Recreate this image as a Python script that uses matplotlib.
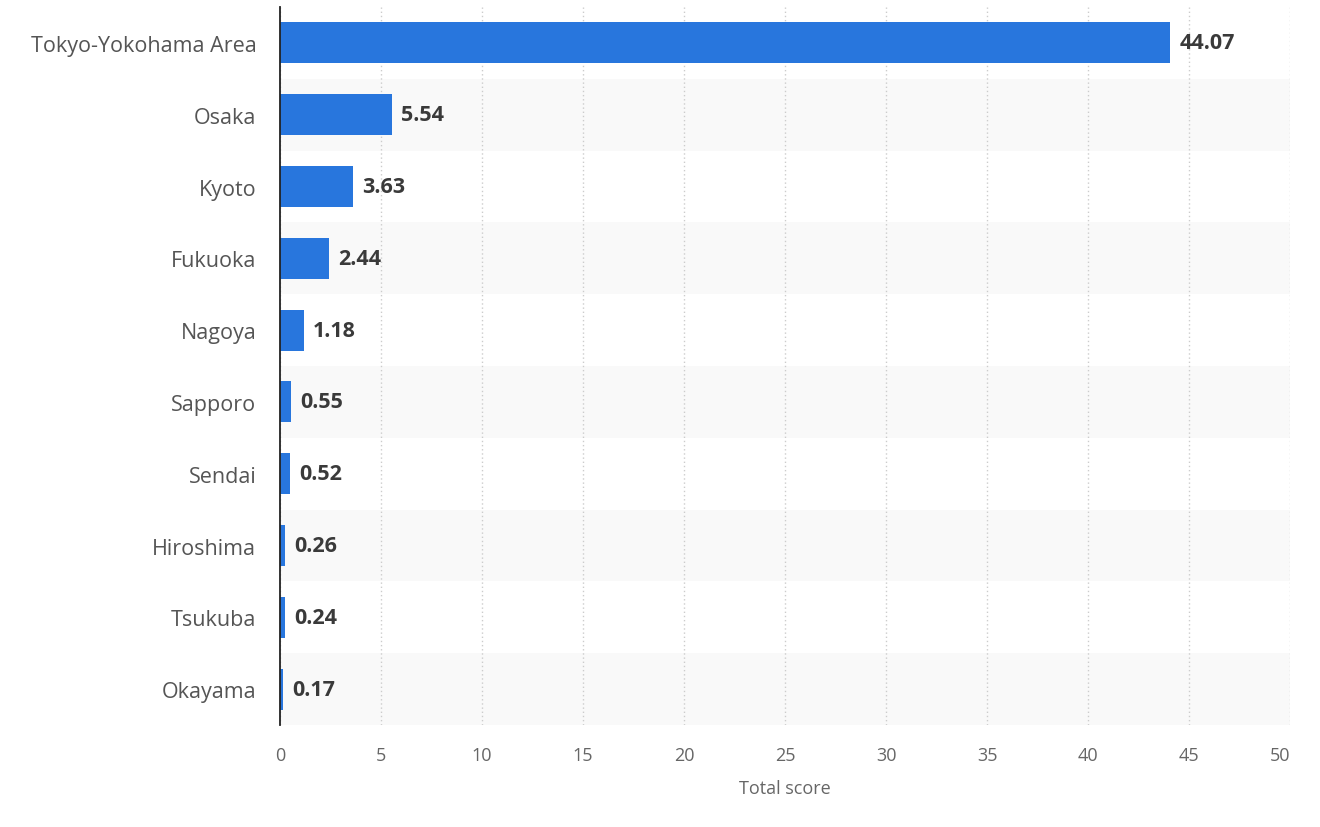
import numpy as np
import matplotlib.pyplot as plt

cities = ["Tokyo-Yokohama Area", "Osaka", "Kyoto", "Fukuoka", "Nagoya",
          "Sapporo", "Sendai", "Hiroshima", "Tsukuba", "Okayama"]
scores = [44.07, 5.54, 3.63, 2.44, 1.18, 0.55, 0.52, 0.26, 0.24, 0.17]
xticks = [0, 5, 10, 15, 20, 25, 30, 35, 40, 45, 50]

plt.rcParams['font.family'] = ['Open Sans', 'DejaVu Sans']

fig = plt.figure(figsize=(13.2, 8.28), dpi=100)
ax = fig.add_axes([0.2121, 0.1232, 0.7652, 0.8671])

y = np.arange(len(cities))

# alternating row bands
for i in y:
    if i % 2 == 1:
        ax.axhspan(i - 0.5, i + 0.5, color='#f9f9f9', zorder=0, lw=0)

ax.barh(y, scores, height=0.57, color='#2876dd', zorder=3)

for yi, v in zip(y, scores):
    ax.text(v + 0.45, yi, f"{v:.2f}", va='center', ha='left',
            fontsize=15.5, fontweight='bold', color='#3a3a3a', zorder=4)

ax.set_xlim(0, 50)
ax.set_ylim(len(cities) - 0.5, -0.5)
ax.set_xticks(xticks)
ax.set_yticks(y)
ax.set_yticklabels(cities)
ax.xaxis.grid(True, linestyle=(0, (1, 2)), color='#cccccc', linewidth=1, zorder=1)
ax.set_axisbelow(True)

for s in ['top', 'right', 'bottom']:
    ax.spines[s].set_visible(False)
ax.spines['left'].set_color('#222222')
ax.spines['left'].set_linewidth(1.3)
ax.spines['left'].set_zorder(5)

ax.tick_params(axis='y', length=0, pad=17, labelsize=15.5, labelcolor='#555555')
ax.tick_params(axis='x', length=0, pad=15, labelsize=13, labelcolor='#666666')
# last tick label kept inside the plot edge
ax.get_xticklabels()[-1].set_horizontalalignment('right')
ax.set_xlabel("Total score", fontsize=13, color='#666666', labelpad=11)

fig.savefig("out.png", dpi=100)
